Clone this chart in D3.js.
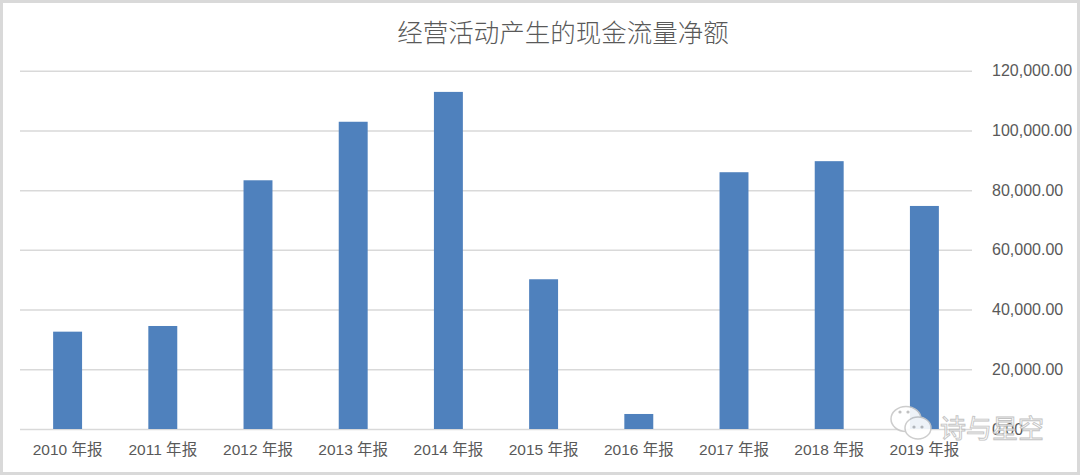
<!DOCTYPE html>
<html>
<head>
<meta charset="utf-8">
<script src="https://cdn.jsdelivr.net/npm/d3@7"></script>
<style>
  html, body { margin: 0; padding: 0; background: #fff; }
  svg { display: block; }
</style>
</head>
<body>
<svg id="chart" width="1080" height="475"></svg>
<script>
const title = "经营活动产生的现金流量净额";
const categories = ["2010年报","2011年报","2012年报","2013年报","2014年报","2015年报","2016年报","2017年报","2018年报","2019年报"];
const values = [32600, 34500, 83300, 102900, 112900, 50150, 5030, 86000, 89700, 74700];
const yTicks = [0, 20000, 40000, 60000, 80000, 100000, 120000];
const watermark = "诗与星空";

const W = 1080, H = 475;
const plotLeft = 20, plotRight = 972, plotTop = 70.7, plotBottom = 429;
const svg = d3.select("#chart");

// outer frame
svg.append("rect").attr("x", 1.5).attr("y", 1.5).attr("width", W - 3).attr("height", H - 3)
  .attr("fill", "#fff").attr("stroke", "#d9d9d9").attr("stroke-width", 3);

const x = d3.scaleBand().domain(categories).range([plotLeft, plotRight]).paddingInner(0.696).paddingOuter(0.348);
const y = d3.scaleLinear().domain([0, 120000]).range([plotBottom, plotTop]);

// title
svg.append("text").attr("x", 563).attr("y", 42).attr("text-anchor", "middle")
  .attr("font-family", "'Noto Sans CJK SC', sans-serif").attr("font-weight", 300)
  .attr("font-size", 25.5).attr("fill", "#595959").text(title);

// gridlines + right axis labels
const yAxis = d3.axisRight(y).tickValues(yTicks).tickSize(-(plotRight - plotLeft))
  .tickFormat(d => d3.format(",.2f")(d));
const gy = svg.append("g").attr("transform", `translate(${plotRight},0)`).call(yAxis);
gy.select(".domain").remove();
gy.selectAll(".tick line").attr("stroke", "#d9d9d9").attr("stroke-width", 1.5);
gy.selectAll(".tick text").attr("x", 20).attr("fill", "#595959")
  .attr("font-family", "'Liberation Sans', Arial, sans-serif").attr("font-size", 16);

// bars
svg.append("g").selectAll("rect").data(values).join("rect")
  .attr("x", (d, i) => x(categories[i]))
  .attr("width", x.bandwidth())
  .attr("y", d => y(d))
  .attr("height", d => y(0) - y(d))
  .attr("fill", "#4f81bd");

// x axis labels
const xAxis = d3.axisBottom(x).tickSize(0).tickFormat(d => d.replace("年报", " 年报"));
const gx = svg.append("g").attr("transform", `translate(0,${plotBottom})`).call(xAxis);
gx.select(".domain").remove();
gx.selectAll(".tick text").attr("y", 15).attr("fill", "#595959")
  .attr("font-family", "'Liberation Sans', 'Noto Sans CJK SC', sans-serif").attr("font-size", 15.5);

// watermark (drawn over the axis, as in the reference)
const wm = svg.append("g").attr("opacity", 0.9);
wm.append("ellipse").attr("cx", 906).attr("cy", 419).attr("rx", 15).attr("ry", 12.5)
  .attr("fill", "#fff").attr("stroke", "#c8c8c8").attr("stroke-width", 1.5);
wm.append("ellipse").attr("cx", 918).attr("cy", 428).attr("rx", 13).attr("ry", 11)
  .attr("fill", "#fff").attr("stroke", "#c8c8c8").attr("stroke-width", 1.5);
[[900,412],[908,412],[914,427],[922,427]].forEach(p =>
  wm.append("circle").attr("cx", p[0]).attr("cy", p[1]).attr("r", 1.6).attr("fill", "#bbb"));
wm.append("text").attr("x", 940).attr("y", 438).attr("font-size", 26)
  .attr("font-family", "'Noto Sans CJK SC', sans-serif")
  .attr("fill", "#fff").attr("stroke", "#bdbdbd").attr("stroke-width", 0.9)
  .text(watermark);
</script>
</body>
</html>
